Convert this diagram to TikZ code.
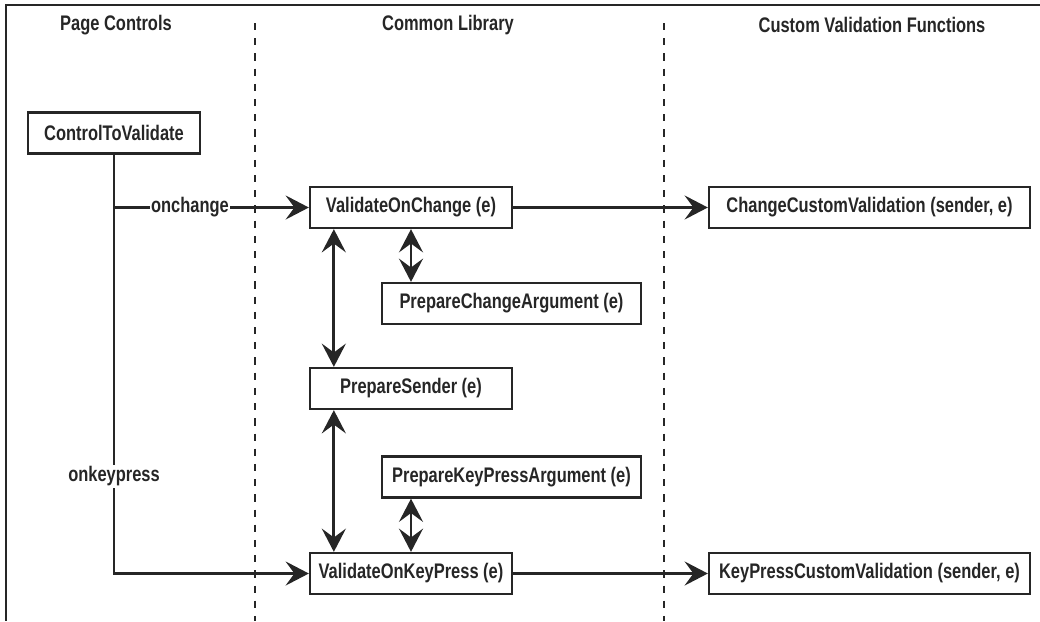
\documentclass[tikz,border=0pt]{standalone}
\usepackage{fontspec}
\setmainfont{Liberation Sans}[FakeStretch=0.78]
\usetikzlibrary{arrows.meta,positioning,calc}

\begin{document}
\begin{tikzpicture}[
	x=0.025cm, y=-0.025cm,
	% Node styles
	callbox/.style={
		rectangle,
		draw=black!85,
		fill=white,
		line width=1.6pt,
		minimum width=5.05cm,
		minimum height=1.025cm,
		inner sep=0pt,
		text centered,
		font=\fontsize{15}{17}\selectfont\bfseries,
		text=black!85
	},
	header/.style={
		font=\fontsize{15}{17}\selectfont\bfseries,
		text=black!85
	},
	evlabel/.style={
		fill=white,
		inner sep=1pt,
		font=\fontsize{15}{17}\selectfont\bfseries,
		text=black!85
	},
	arrow/.style={
		-{Stealth[length=5.8mm,width=6mm,inset=2.2mm]},
		line width=2pt,
		draw=black!85
	},
	doublearrow/.style={
		{Stealth[length=5.8mm,width=6mm,inset=2.2mm]}-{Stealth[length=5.8mm,width=6mm,inset=2.2mm]},
		line width=2pt,
		draw=black!85
	},
	lane/.style={
		dashed,
		dash pattern=on 0.18cm off 0.2cm,
		line width=0.9pt,
		draw=black!85
	}
	]
	
	\useasboundingbox (0,0) rectangle (1040,621);
	
	% Frame (open at right and bottom)
	\draw[line width=1.4pt, black!85] (1040,5) -- (6,5) -- (6,621);
	
	% Lanes
	\draw[lane] (255,23) -- (255,621);
	\draw[lane] (664,23) -- (664,621);
	
	% Titles
	\node[header] (pagetitle) at (116,25) {Page Controls};
	\node[header] (libtitle) at (448,25) {Common Library};
	\node[header] (customtitle) at (872,25) {Custom Validation Functions};
	
	% Page controls
	\node[callbox, minimum width=4.3cm] (ctrl) at (114,133) {ControlToValidate};
	
	% Common library
	\node[callbox] (voc) at (411,207.5) {ValidateOnChange (e)};
	\node[callbox, minimum width=6.475cm] (pca) at (511.5,303.5) {PrepareChangeArgument (e)};
	\node[callbox] (ps) at (411,388.5) {PrepareSender (e)};
	\node[callbox, minimum width=6.475cm] (pka) at (511.5,477) {PrepareKeyPressArgument (e)};
	\node[callbox] (vokp) at (411,573.5) {ValidateOnKeyPress (e)};
	
	% Custom validation functions
	\node[callbox, minimum width=8.025cm] (ccv) at (869.5,207.5) {ChangeCustomValidation (sender, e)};
	\node[callbox, minimum width=8.025cm] (kcv) at (869.5,573.5) {KeyPressCustomValidation (sender, e)};
	
	% Events from the control
	\draw[arrow] (ctrl.south) |- node[evlabel, pos=0.384] {onkeypress} (vokp.west);
	\draw[arrow] (ctrl.south |- voc.west) -- node[evlabel, pos=0.39] {onchange} (voc.west);
	
	% Calls inside the library
	\draw[doublearrow] ([xshift=0.625cm]voc.south west) -- ([xshift=0.625cm]ps.north west);
	\draw[doublearrow] ([xshift=0.625cm]ps.south west) -- ([xshift=0.625cm]vokp.north west);
	\draw[doublearrow] (voc.south) -- (voc.south |- pca.north);
	\draw[doublearrow] (vokp.north |- pka.south) -- (vokp.north);
	
	% Calls to custom functions
	\draw[arrow] (voc.east) -- (ccv.west);
	\draw[arrow] (vokp.east) -- (kcv.west);
	
\end{tikzpicture}
\end{document}
